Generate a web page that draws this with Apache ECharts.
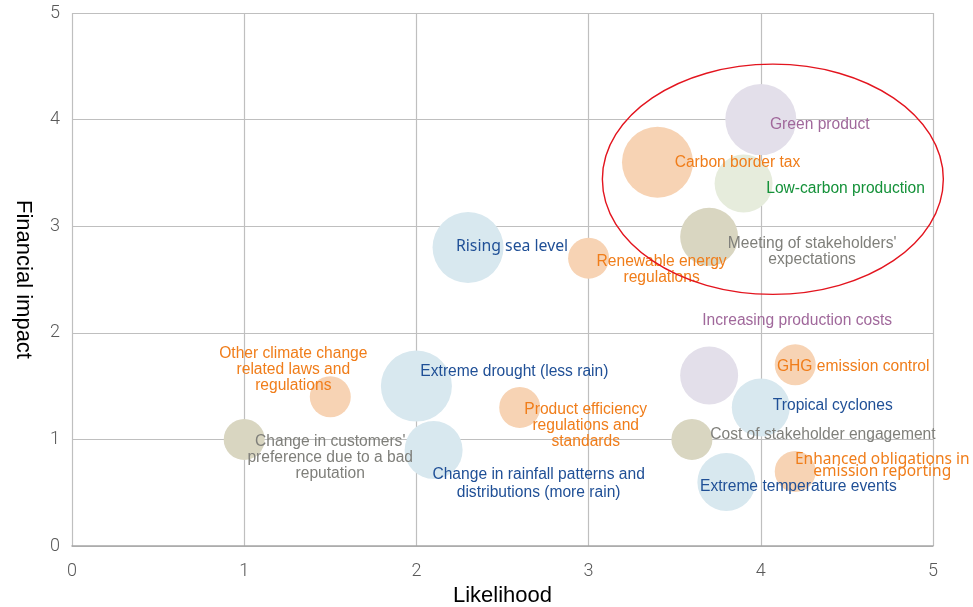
<!DOCTYPE html>
<html>
<head>
<meta charset="utf-8">
<script src="https://cdn.jsdelivr.net/npm/echarts@6/dist/echarts.min.js"></script>
<style>html,body{margin:0;padding:0;background:#fff}#c{width:973px;height:607px}</style>
</head>
<body>
<div id="c"></div>
<script>
// ---- data ----
const names = [
  "Green product",
  "Carbon border tax",
  "Low-carbon production",
  "Meeting of stakeholders'\nexpectations",
  "Rising sea level",
  "Renewable energy\nregulations",
  "Increasing production costs",
  "GHG emission control",
  "Tropical cyclones",
  "Cost of stakeholder engagement",
  "Enhanced obligations in\nemission reporting",
  "Extreme temperature events",
  "Other climate change\nrelated laws and\nregulations",
  "Extreme drought (less rain)",
  "Product efficiency\nregulations and\nstandards",
  "Change in customers'\npreference due to a bad\nreputation",
  "Change in rainfall patterns and\ndistributions (more rain)"
];
const likelihood = [4.0, 3.4, 3.9, 3.7, 2.3, 3.0, 3.7, 4.2, 4.0, 3.6, 4.2, 3.8, 1.5, 2.0, 2.6, 1.0, 2.1];
const impact     = [4.0, 3.6, 3.4, 2.9, 2.8, 2.7, 1.6, 1.7, 1.3, 1.0, 0.7, 0.6, 1.4, 1.5, 1.3, 1.0, 0.9];
const bubbleSize = [3, 3, 2, 2, 3, 1, 2, 1, 2, 1, 1, 2, 1, 3, 1, 1, 2];
const group      = ["purple","orange","green","khaki","blue","orange","purple","orange","blue","khaki","orange","blue","orange","blue","orange","khaki","blue"];
const xTicks = [0, 1, 2, 3, 4, 5];
const yTicks = [0, 1, 2, 3, 4, 5];
// annotation ellipse in data units: centre x, centre y, radius x, radius y
const highlight = [4.07, 3.44, 0.99, 1.08];

// ---- styles / layout ----
const fill = {purple:"#e3dfea", orange:"#f7d3b4", green:"#e6ecdc", khaki:"#d9d6c1", blue:"#d8e8ef"};
const ink  = {purple:"#a0689b", orange:"#f07d1a", green:"#149139", khaki:"#7f7f7a", blue:"#1f4f96"};
const labelOffsets = [
  [59,5],[80,0],[102,5],[103,15],[44,-1],[73,12],[88,-55],[58,2],[72,-2],[131,-5],
  [87,-6],[72,5],[-37,-27],[98,-14],[66,18],[86,18],[105,34]
];
const labelFont = {4:{fontFamily:"Noto Sans", fontSize:15.8, lineHeight:16}, 10:{fontFamily:"Noto Sans", fontSize:15.5, lineHeight:12}, 16:{lineHeight:18}};

const data = names.map((n,i)=>{
  const lf = labelFont[i] || {};
  return {
    name: n,
    value: [likelihood[i], impact[i], bubbleSize[i]],
    itemStyle: {color: fill[group[i]]},
    label: {
      show: true, position: 'inside', formatter: n,
      color: ink[group[i]], align: 'center', verticalAlign: 'middle',
      fontFamily: lf.fontFamily || "Liberation Sans, Arial, sans-serif",
      fontSize: lf.fontSize || 15.6, lineHeight: lf.lineHeight || 16
    }
  };
});

const chart = echarts.init(document.getElementById('c'));
const axisLabel = {fontFamily:"Roboto", fontWeight:300, fontSize:18, color:"#595959"};
chart.setOption({
  animation: false,
  grid: {left:72, right:40, top:13, bottom:61, containLabel:false, outerBoundsMode:'none'},
  xAxis: {
    type:'value', min:xTicks[0], max:xTicks[xTicks.length-1], interval:1,
    name:'Likelihood', nameLocation:'middle', nameGap:35,
    nameTextStyle:{fontFamily:"Liberation Sans, Arial", fontSize:22, color:"#000"},
    axisLine:{show:true, lineStyle:{color:"#a6a6a6", width:1.5}},
    axisTick:{show:false},
    splitLine:{show:true, lineStyle:{color:"#bfbfbf", width:1.2}},
    axisLabel:Object.assign({margin:16}, axisLabel)
  },
  yAxis: {
    type:'value', min:yTicks[0], max:yTicks[yTicks.length-1], interval:1,
    name:'Financial impact', nameLocation:'middle', nameGap:38, nameRotate:-90,
    nameTextStyle:{fontFamily:"Liberation Sans, Arial", fontSize:22, color:"#000"},
    axisLine:{show:false},
    axisTick:{show:false},
    splitLine:{show:true, lineStyle:{color:"#bfbfbf", width:1.2}},
    axisLabel:Object.assign({margin:12}, axisLabel)
  },
  series: [{
    type:'scatter',
    data: data,
    symbolSize: v => 41*Math.sqrt(v[2]),
    itemStyle:{opacity:1},
    labelLayout: p => ({dx: labelOffsets[p.dataIndex][0], dy: labelOffsets[p.dataIndex][1], hideOverlap:false}),
    z: 3
  }]
});

const c = chart.convertToPixel({gridIndex:0}, [highlight[0], highlight[1]]);
const ex = chart.convertToPixel({gridIndex:0}, [highlight[0]+highlight[2], highlight[1]+highlight[3]]);
chart.setOption({
  graphic: [{
    type:'ellipse', z: 10, silent:true,
    shape:{cx:c[0], cy:c[1], rx:Math.abs(ex[0]-c[0]), ry:Math.abs(ex[1]-c[1])},
    style:{fill:'none', stroke:'#e3141e', lineWidth:1.4}
  }]
});
</script>
</body>
</html>
